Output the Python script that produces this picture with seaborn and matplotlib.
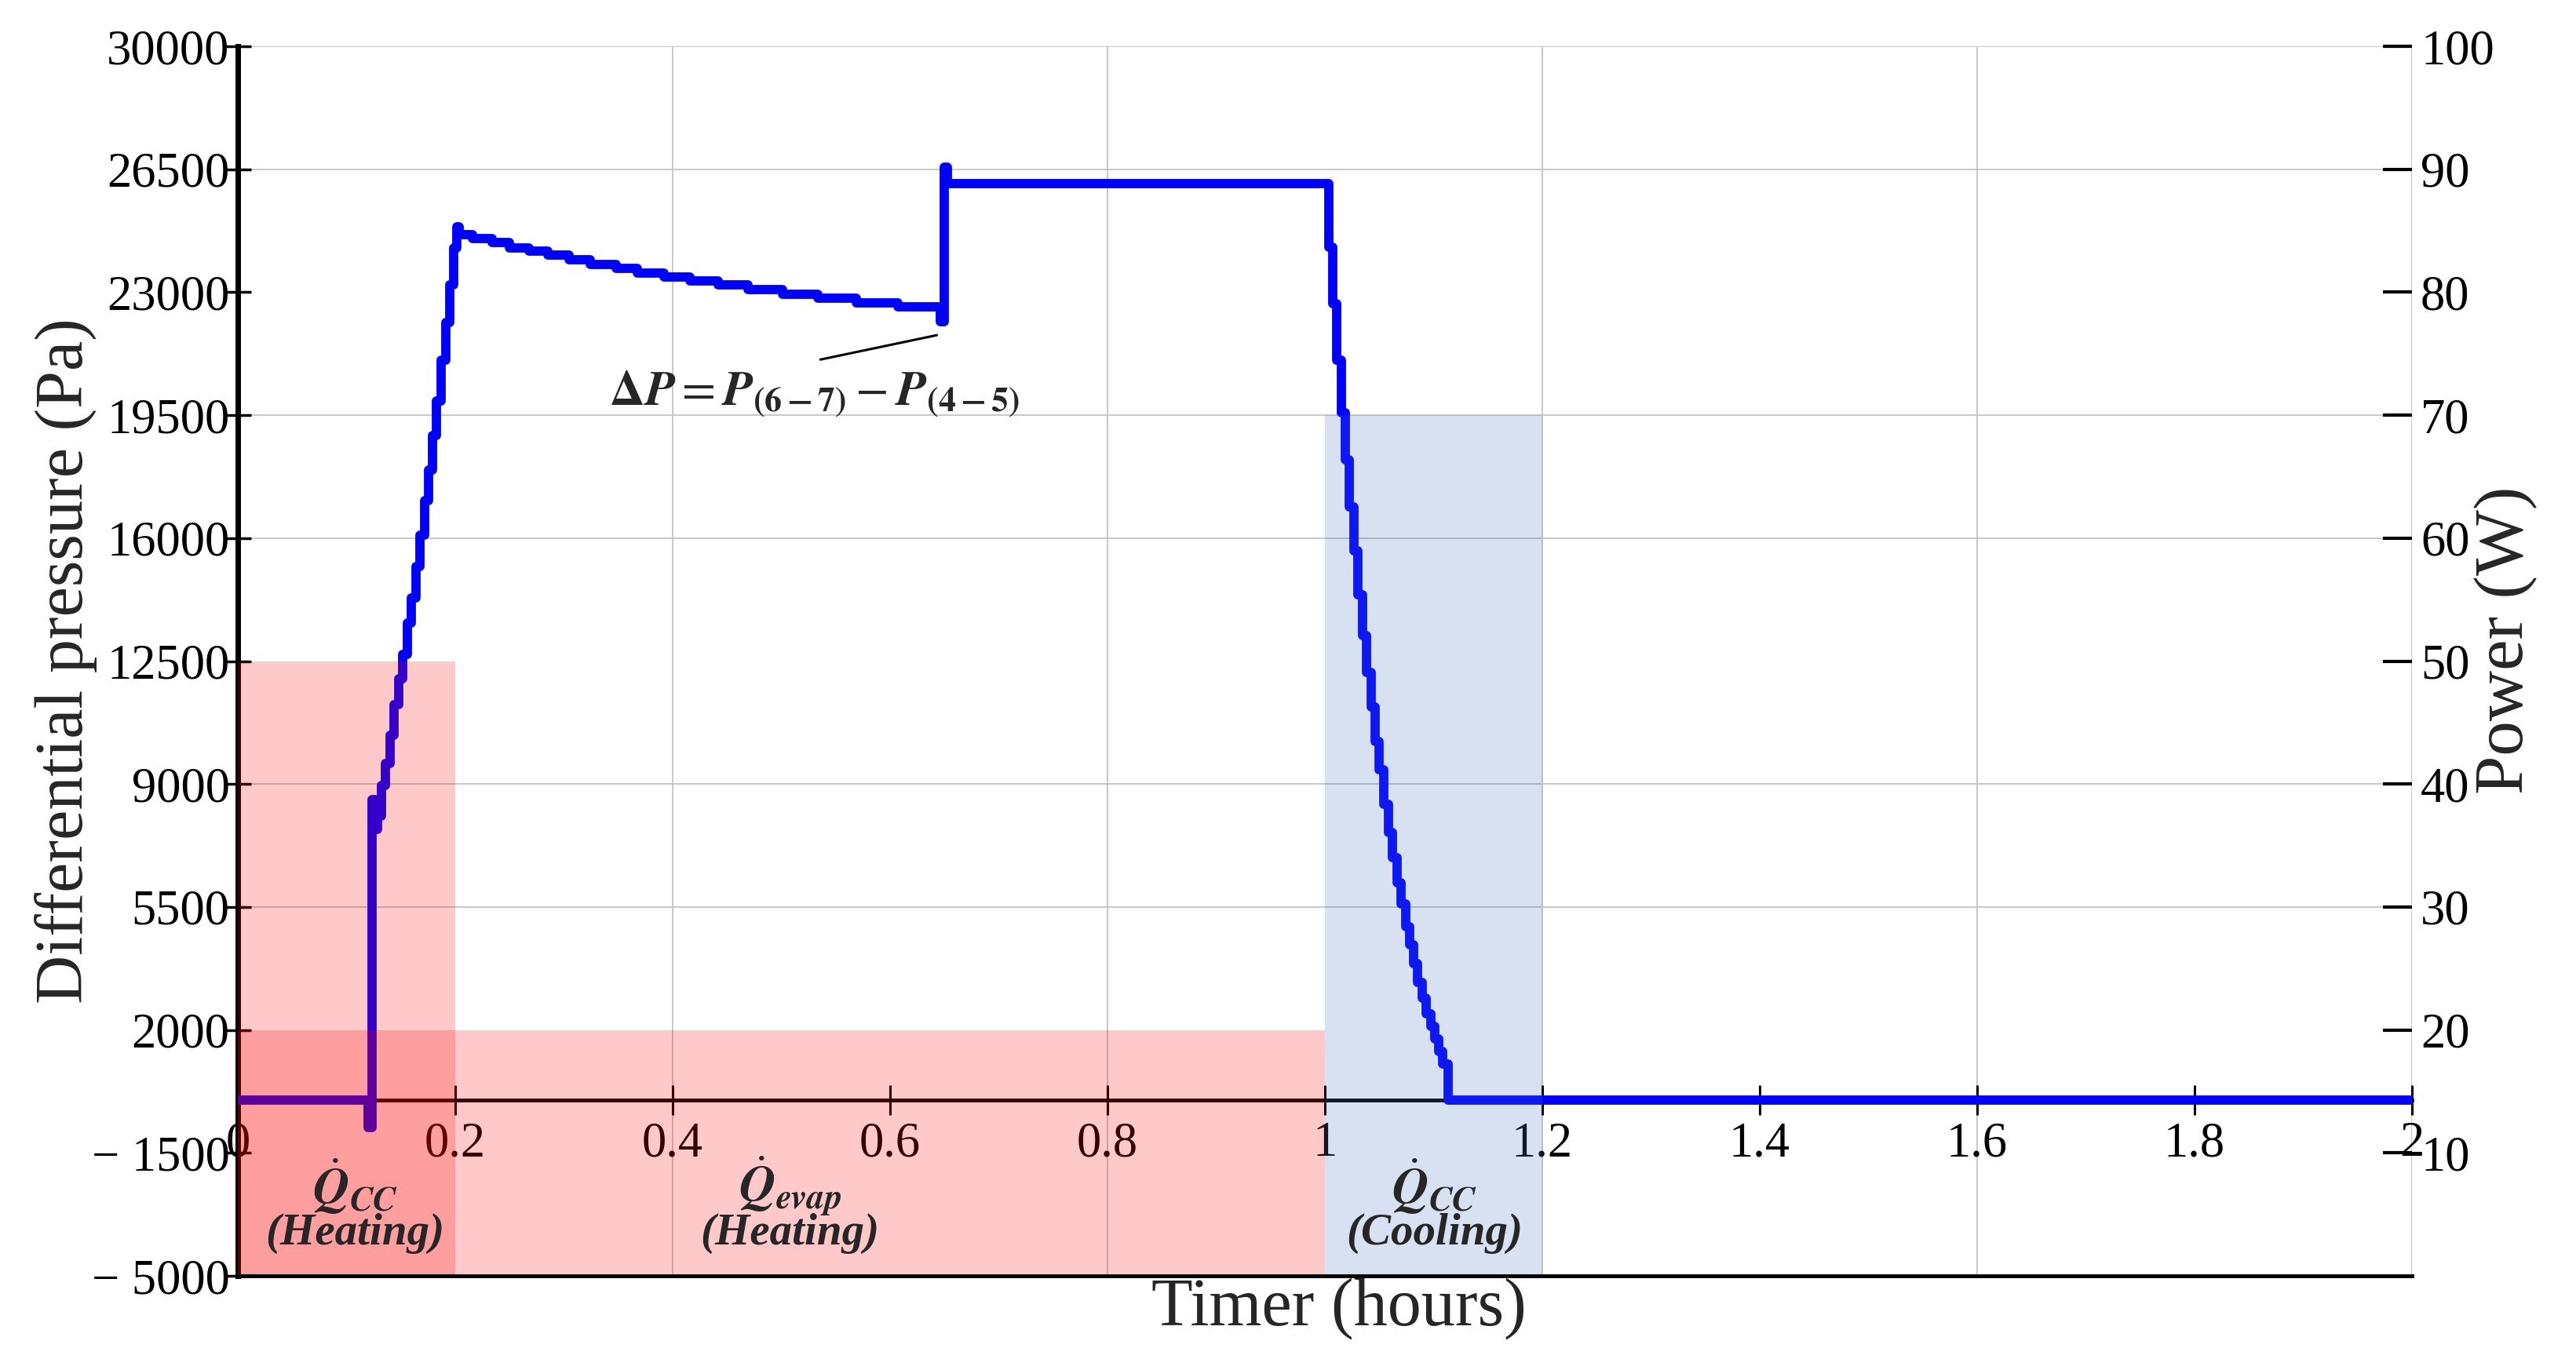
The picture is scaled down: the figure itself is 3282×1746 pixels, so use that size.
import numpy as np
import pandas as pd
import seaborn as sns
import matplotlib.pyplot as plt

sns.set_style("white")
plt.rcParams['font.family'] = ['Liberation Serif', 'DejaVu Serif']
plt.rcParams['mathtext.fontset'] = 'stix'
plt.rcParams['axes.grid'] = False

# Differential pressure trace (start time of each step, level in Pa)
time_h = [0.0, 0.1199, 0.1235, 0.1265, 0.1283, 0.1319, 0.1355, 0.1398, 0.1439,
          0.1483, 0.1519, 0.1560, 0.1596, 0.1639, 0.1675, 0.1716, 0.1752, 0.1793,
          0.1829, 0.1872, 0.1913, 0.1952, 0.1988, 0.2017, 0.2040, 0.2162, 0.2339,
          0.2501, 0.2678, 0.2855, 0.3048, 0.3241, 0.3483, 0.3676, 0.3918, 0.4159,
          0.4417, 0.4691, 0.5013, 0.5335, 0.5689, 0.6076, 0.6462, 0.6500, 0.6530,
          1.0037, 1.0074, 1.0110, 1.0150, 1.0189, 1.0225, 1.0266, 1.0307, 1.0345,
          1.0386, 1.0427, 1.0463, 1.0501, 1.0542, 1.0583, 1.0622, 1.0663, 1.0699,
          1.0742, 1.0778, 1.0819, 1.0855, 1.0896, 1.0934, 1.0975, 1.1012, 1.1048,
          1.1084, 1.1131, 2.0]
dp_pa = [0, -780, 8560, 7700, 8100, 8960, 9580, 10380, 11270,
         11990, 12700, 13590, 14300, 15190, 16080, 17060, 17950, 18930,
         19910, 21070, 22140, 23210, 24270, 24870, 24630, 24520, 24410,
         24270, 24160, 24050, 23920, 23790, 23680, 23540, 23430, 23320,
         23210, 23080, 22950, 22820, 22700, 22580, 22150, 26550, 26100,
         24280, 22670, 21070, 19560, 18220, 16890, 15640, 14390, 13230,
         12170, 11190, 10210, 9400, 8430, 7620, 6910, 6200, 5580,
         4950, 4420, 3880, 3350, 2900, 2460, 2100, 1750, 1390,
         1030, 0, 0]

# Power blocks on the right axis
bar_start = [0.0, 0.0, 1.0]
bar_width = [0.2, 1.0, 0.2]
bar_power = [50, 20, 70]
bar_color = ['#ff0000', '#ff0000', '#4472c4']

left_ticks = [-5000, -1500, 2000, 5500, 9000, 12500, 16000, 19500, 23000, 26500, 30000]
left_labels = ['\u2212 5000', '\u2212 1500', '2000', '5500', '9000', '12500',
               '16000', '19500', '23000', '26500', '30000']
right_ticks = [10, 20, 30, 40, 50, 60, 70, 80, 90, 100]
x_ticks = [0, 0.2, 0.4, 0.6, 0.8, 1.0, 1.2, 1.4, 1.6, 1.8, 2.0]
x_labels = ['0', '0.2', '0.4', '0.6', '0.8', '1', '1.2', '1.4', '1.6', '1.8', '2']
grid_y = [5500, 9000, 16000, 19500, 26500, 30000]
grid_x = [0.4, 0.8, 1.2, 1.6, 2.0]

df = pd.DataFrame({"Timer (hours)": time_h, "dP": dp_pa})

fig = plt.figure(figsize=(32.82, 17.46), dpi=100)
ax = fig.add_axes([0.0923, 0.0687, 0.844, 0.8975])
ax.grid(False)

# light grid only at selected positions
for gy in grid_y:
    ax.axhline(gy, color='#c4c4c4', lw=1.3, zorder=0.5)
for gx in grid_x:
    ax.axvline(gx, color='#c4c4c4', lw=1.3, zorder=0.5)

sns.lineplot(data=df, x="Timer (hours)", y="dP", ax=ax, estimator=None, sort=False,
             drawstyle='steps-post', color='#0000ff', lw=8.5, zorder=3,
             solid_joinstyle='round', solid_capstyle='round')

ax.set_xlim(0, 2)
ax.set_ylim(-5000, 30000)

ax.set_xticks(x_ticks)
ax.set_xticklabels(x_labels)
ax.set_yticks(left_ticks)
ax.set_yticklabels(left_labels)

ax.tick_params(axis='x', which='major', direction='inout', length=27, width=2.2,
               labelsize=45, pad=6, colors='black', bottom=True)
ax.tick_params(axis='y', which='major', direction='inout', length=25, width=2.5,
               labelsize=45, pad=-5, colors='black', left=True)
ax.get_xticklabels()[0].set_ha('left')

for s in ['top', 'right']:
    ax.spines[s].set_visible(False)
ax.spines['left'].set_linewidth(5)
ax.spines['left'].set_color('black')
ax.spines['bottom'].set_position(('data', 0))
ax.spines['bottom'].set_linewidth(3.5)
ax.spines['bottom'].set_color('black')

ax.set_xlabel("Timer (hours)", fontsize=62)
ax.xaxis.set_label_coords(0.5065, -0.027)
ax.xaxis.label.set_va('center')
ax.set_ylabel("Differential pressure (Pa)", fontsize=62)
ax.yaxis.set_label_coords(-0.079, 0.5)
ax.yaxis.label.set_va('center')

# annotation
ax.annotate('', xy=(0.645, 21790), xytext=(0.534, 21070),
            arrowprops=dict(arrowstyle='-', lw=2.2, color='black'))
ax.text(0.530, 20100,
        r'$\mathbf{\Delta}\mathbfit{P} = \mathbfit{P}_{\mathbf{(6-7)}} - \mathbfit{P}_{\mathbf{(4-5)}}$',
        fontsize=45, ha='center', va='center')

# right axis with power blocks
ax2 = ax.twinx()
ax2.set_ylim(0, 100)
ax2.grid(False)
ax2.bar(bar_start, bar_power, width=bar_width, align='edge', color=bar_color,
        alpha=0.21, linewidth=0, zorder=1)
ax2.set_yticks(right_ticks)
ax2.tick_params(axis='y', direction='in', length=27, width=3, labelsize=45,
                pad=8, colors='black', right=True, left=False)
for s in ['top', 'right', 'left']:
    ax2.spines[s].set_visible(False)
ax2.spines['bottom'].set_linewidth(3.5)
ax2.spines['bottom'].set_color('black')
ax2.set_ylabel("Power (W)", fontsize=64)
ax2.yaxis.set_label_coords(1.043, 0.517)
ax2.yaxis.label.set_va('center')
ax2.yaxis.label.set_ha('center')

# labels of the power blocks
q_labels = [(0.108, r'$\dot{\mathbfit{Q}}_{\mathbfit{CC}}$', '(Heating)'),
            (0.508, r'$\dot{\mathbfit{Q}}_{\mathbfit{evap}}$', '(Heating)'),
            (1.101, r'$\dot{\mathbfit{Q}}_{\mathbfit{CC}}$', '(Cooling)')]
for xq, top, bottom in q_labels:
    ax2.text(xq, -2450, top, transform=ax.transData, fontsize=46,
             ha='center', va='center', zorder=10)
    ax2.text(xq, -3800, bottom, transform=ax.transData, fontsize=41,
             ha='center', va='center', style='italic', weight='bold', zorder=10)

fig.savefig("out.png", dpi=100)
plt.close(fig)
